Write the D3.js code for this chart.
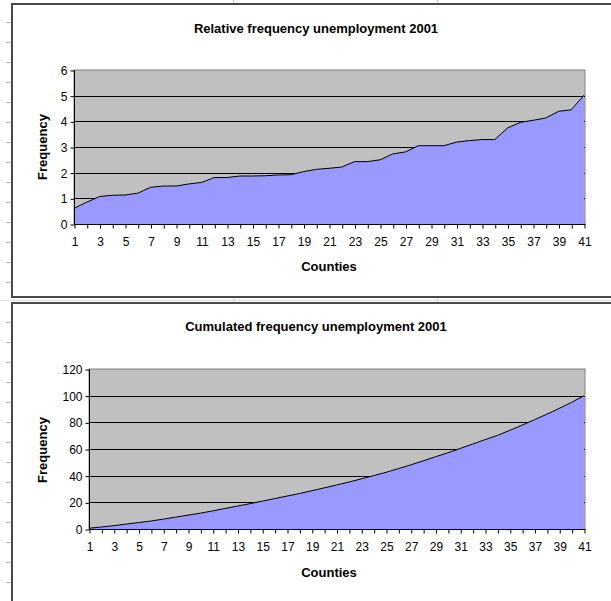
<!DOCTYPE html>
<html>
<head>
<meta charset="utf-8">
<script src="https://cdn.jsdelivr.net/npm/d3@7"></script>
<style>
  body { margin: 0; background: #fff; }
  svg { display: block; font-family: "Liberation Sans", Arial, sans-serif; }
</style>
</head>
<body>
<div id="wrapper"></div>
<script>
// counties 1..41
var counties = [1,2,3,4,5,6,7,8,9,10,11,12,13,14,15,16,17,18,19,20,
  21,22,23,24,25,26,27,28,29,30,31,32,33,34,35,36,37,38,39,40,41];

// relative frequency (%)
var relFreq = [0.61,0.85,1.07,1.12,1.13,1.20,1.43,1.48,1.48,1.56,
  1.62,1.81,1.81,1.87,1.87,1.88,1.91,1.92,2.04,2.13,
  2.17,2.22,2.43,2.43,2.50,2.73,2.81,3.05,3.05,3.05,
  3.19,3.25,3.29,3.29,3.74,3.96,4.04,4.13,4.39,4.45,5.02];

// cumulated frequency
var cumFreq = [0.6,1.5,2.5,3.7,4.8,6.0,7.4,8.9,10.4,11.9,
  13.6,15.4,17.2,19.0,20.9,22.8,24.7,26.6,28.7,30.8,
  33.0,35.2,37.6,40.0,42.5,45.3,48.1,51.1,54.2,57.2,
  60.4,63.7,67.0,70.2,74.0,77.9,82.0,86.1,90.5,95.0,100];

var relTicks = [0,1,2,3,4,5,6];
var cumTicks = [0,20,40,60,80,100,120];
var xLabels = [1,3,5,7,9,11,13,15,17,19,21,23,25,27,29,31,33,35,37,39,41];

var svg = d3.select('#wrapper').append('svg')
  .attr('width', 611).attr('height', 601);

// spreadsheet background bits
var rowY = [22,42,62,82,102,122,142,162,182,202,222,242,262,282,322,342,362,382,402,422,442,462,482,502,522,542,562,582];
svg.selectAll('line.row').data(rowY).enter().append('line')
  .attr('x1', 6).attr('x2', 11)
  .attr('y1', function(d){ return d + 0.5; }).attr('y2', function(d){ return d + 0.5; })
  .style('stroke', '#bbb');
[233, 437].forEach(function(x){
  svg.append('line').attr('x1', x + 0.5).attr('x2', x + 0.5).attr('y1', 0).attr('y2', 4).style('stroke', '#ccc');
  svg.append('line').attr('x1', x + 0.5).attr('x2', x + 0.5).attr('y1', 297).attr('y2', 303).style('stroke', '#ccc');
});
svg.append('line').attr('x1', 0).attr('x2', 611).attr('y1', 300.5).attr('y2', 300.5).style('stroke', '#ddd');

function drawChart(cfg) {
  var g = svg.append('g');

  // chart frame
  g.append('rect')
    .attr('x', 12).attr('y', cfg.frameTop)
    .attr('width', 620).attr('height', cfg.frameH)
    .style('fill', '#fff').style('stroke', '#4a4a4a').style('stroke-width', 2);

  var x = d3.scaleLinear().domain([1, 41]).range([cfg.left, 584]);
  var y = d3.scaleLinear().domain([0, d3.max(cfg.ticks)]).range([cfg.bottom, cfg.top]);

  // plot area
  g.append('rect')
    .attr('x', cfg.left).attr('y', cfg.top)
    .attr('width', 585 - cfg.left).attr('height', cfg.bottom - cfg.top)
    .style('fill', '#c0c0c0').style('stroke', '#808080');

  // gridlines
  g.selectAll('line.grid').data(cfg.ticks.slice(1, -1)).enter().append('line')
    .attr('x1', cfg.left).attr('x2', 585)
    .attr('y1', function(d){ return Math.round(y(d)) + 0.5; })
    .attr('y2', function(d){ return Math.round(y(d)) + 0.5; })
    .style('stroke', '#000');

  // area + line
  var area = d3.area()
    .x(function(d, i){ return x(counties[i]); })
    .y0(y(0))
    .y1(function(d){ return y(d); });
  var line = d3.line()
    .x(function(d, i){ return x(counties[i]); })
    .y(function(d){ return y(d); });
  g.append('path').datum(cfg.values).attr('d', area).style('fill', '#9999ff');
  g.append('path').datum(cfg.values).attr('d', line)
    .style('fill', 'none').style('stroke', '#000').style('stroke-width', 1);

  // y axis
  var yAxis = d3.axisLeft(y).tickValues(cfg.ticks).tickFormat(d3.format('d')).tickSize(4).tickPadding(3);
  var ya = g.append('g').attr('transform', 'translate(' + (cfg.left + 0.5) + ',0.5)').call(yAxis);
  ya.select('.domain').remove();
  ya.append('line').attr('y1', y(0)).attr('y2', y(d3.max(cfg.ticks))).style('stroke', '#000');
  ya.selectAll('text').style('font-size', '12px').style('fill', '#000')
    .style('font-family', '"Liberation Sans", Arial, sans-serif');

  // x axis
  var xAxis = d3.axisBottom(x).tickValues(counties).tickSize(4).tickPadding(9)
    .tickFormat(function(d){ return xLabels.indexOf(d) >= 0 ? d : ''; });
  var xa = g.append('g').attr('transform', 'translate(0.5,' + (cfg.bottom + 0.5) + ')').call(xAxis);
  xa.select('.domain').remove();
  xa.append('line').attr('x1', cfg.left).attr('x2', 585).style('stroke', '#000');
  xa.selectAll('text').style('font-size', '12px').style('fill', '#000')
    .style('font-family', '"Liberation Sans", Arial, sans-serif');

  // titles
  g.append('text').attr('x', 316).attr('y', cfg.titleY)
    .attr('text-anchor', 'middle').style('font-size', '13px').style('font-weight', 'bold')
    .text(cfg.title);
  g.append('text').attr('x', 329).attr('y', cfg.xTitleY)
    .attr('text-anchor', 'middle').style('font-size', '13px').style('font-weight', 'bold')
    .text('Counties');
  g.append('text')
    .attr('transform', 'translate(47,' + cfg.yTitleMid + ') rotate(-90)')
    .attr('text-anchor', 'middle').style('font-size', '13px').style('font-weight', 'bold')
    .text('Frequency');
}

drawChart({
  frameTop: 4, frameH: 293,
  left: 74, top: 70, bottom: 224,
  ticks: relTicks, values: relFreq,
  title: 'Relative frequency unemployment 2001',
  titleY: 33, xTitleY: 271, yTitleMid: 147
});

drawChart({
  frameTop: 303, frameH: 320,
  left: 89, top: 369, bottom: 529,
  ticks: cumTicks, values: cumFreq,
  title: 'Cumulated frequency unemployment 2001',
  titleY: 331, xTitleY: 577, yTitleMid: 450
});
</script>
</body>
</html>
